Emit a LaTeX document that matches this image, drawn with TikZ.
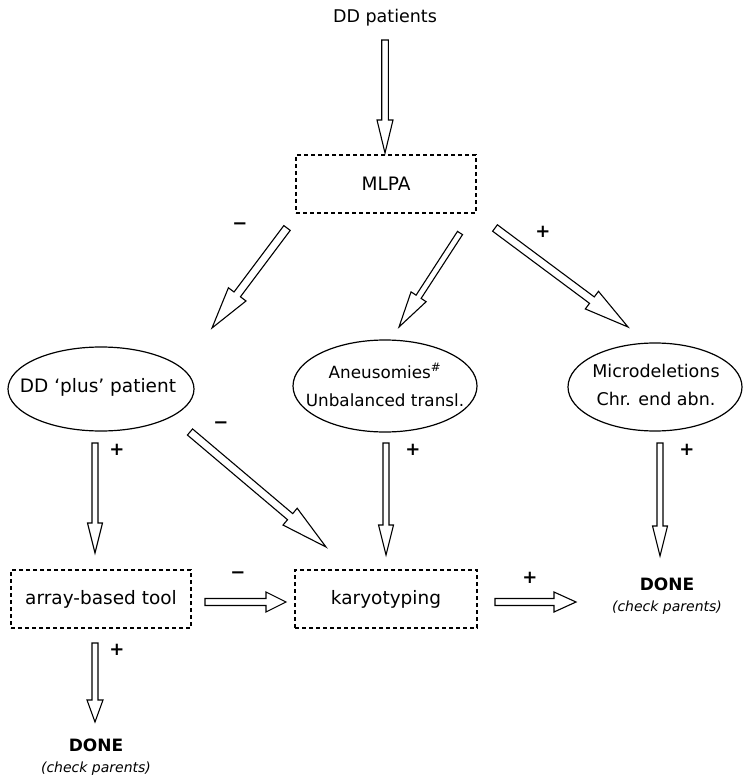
\documentclass[tikz,border=0pt]{standalone}
\usepackage{fontspec}
\setmainfont{DejaVu Sans}
\usetikzlibrary{calc}
\tikzset{
  txt/.style = {font=\fontsize{18.5}{22}\selectfont, inner sep=0pt},
  dashbox/.style = {txt, draw, line width=1.2pt, dash pattern=on 4pt off 3pt, minimum width=180pt, minimum height=58pt},
  oval/.style = {align=center, inner sep=0pt, font=\fontsize{17.5}{28}\selectfont},
  rim/.style = {line width=1.2pt},
  sign/.style = {font=\bfseries\fontsize{18}{20}\selectfont, inner sep=0pt},
  done/.style = {align=center, inner sep=0pt, font=\fontsize{14}{21}\selectfont},
  fat/.style = {draw, line width=1.1pt, fill=white, line join=miter}
}
% hollow arrow: tail, tip, half shaft, half head, head length
\newcommand{\hollowarrow}[5]{%
  \draw[fat] let \p1 = ($(#2)-(#1)$), \n1 = {atan2(\y1,\x1)}, \n2 = {veclen(\x1,\y1)} in
    [shift={(#1)}, rotate=\n1] (0,-#3) -- ({\n2-#5},-#3) -- ({\n2-#5},-#4) -- (\n2,0)
    -- ({\n2-#5},#4) -- ({\n2-#5},#3) -- (0,#3) -- cycle;}

\begin{document}
\begin{tikzpicture}[x=1pt, y=-1pt]
\useasboundingbox (0,0) rectangle (743,778);

\node[txt, font=\fontsize{17.5}{22}\selectfont] (src) at (385,18) {DD patients};
\node[dashbox] (mlpa) at (386,184) {MLPA};
\node[oval, font=\fontsize{18.5}{28}\selectfont] (plus) at (98,387) {DD ‘plus’ patient};
\node[oval, font=\fontsize{16.8}{28}\selectfont] (aneu) at (385,385) {Aneusomies\textsuperscript{\#}\\Unbalanced transl.};
\node[oval] (micro) at (656,385) {Microdeletions\\Chr. end abn.};
\draw[rim] (101,389) ellipse [x radius=93, y radius=42];
\draw[rim] (385,386) ellipse [x radius=92, y radius=46];
\draw[rim] (655,387) ellipse [x radius=87, y radius=44];
\node[dashbox] (array) at (101,599) {array-based tool};
\node[dashbox, minimum width=182pt] (karyo) at (386,599) {karyotyping};
\node[done] (done1) at (667,596) {{\fontsize{17}{21}\selectfont\bfseries DONE}\\\textit{(check parents)}};
\node[done] (done2) at (96,757) {{\fontsize{17}{21}\selectfont\bfseries DONE}\\\textit{(check parents)}};

\coordinate (a0) at (385,40);  \coordinate (b0) at (385,153);
\coordinate (a1) at (287,228); \coordinate (b1) at (212,328);
\coordinate (a2) at (460,233); \coordinate (b2) at (399,327);
\coordinate (a3) at (495,228); \coordinate (b3) at (628,327);
\coordinate (a4) at (95,443);  \coordinate (b4) at (95,553);
\coordinate (a5) at (190,432); \coordinate (b5) at (326,547);
\coordinate (a6) at (386,443); \coordinate (b6) at (386,555);
\coordinate (a7) at (660,443); \coordinate (b7) at (660,556);
\coordinate (a8) at (205,602); \coordinate (b8) at (286,602);
\coordinate (a9) at (495,602); \coordinate (b9) at (576,602);
\coordinate (a10) at (95,643); \coordinate (b10) at (95,722);

\hollowarrow{a0}{b0}{3.3}{8}{33}
\hollowarrow{a1}{b1}{4}{11}{42}
\hollowarrow{a2}{b2}{3}{9}{36}
\hollowarrow{a3}{b3}{4}{11}{45}
\hollowarrow{a4}{b4}{3}{7.5}{30}
\hollowarrow{a5}{b5}{4}{11}{47}
\hollowarrow{a6}{b6}{3}{7.5}{30}
\hollowarrow{a7}{b7}{3}{7.5}{30}
\hollowarrow{a8}{b8}{3.5}{10}{20}
\hollowarrow{a9}{b9}{3.5}{10}{22}
\hollowarrow{a10}{b10}{3}{8}{22}

\node[sign] (s1) at (240,226) {−};
\node[sign] (s2) at (543,232) {+};
\node[sign] (s3) at (117,450) {+};
\node[sign] (s4) at (221,425) {−};
\node[sign] (s5) at (413,450) {+};
\node[sign] (s6) at (687,450) {+};
\node[sign] (s7) at (238,575) {−};
\node[sign] (s8) at (530,578) {+};
\node[sign] (s9) at (117,650) {+};
\end{tikzpicture}
\end{document}
